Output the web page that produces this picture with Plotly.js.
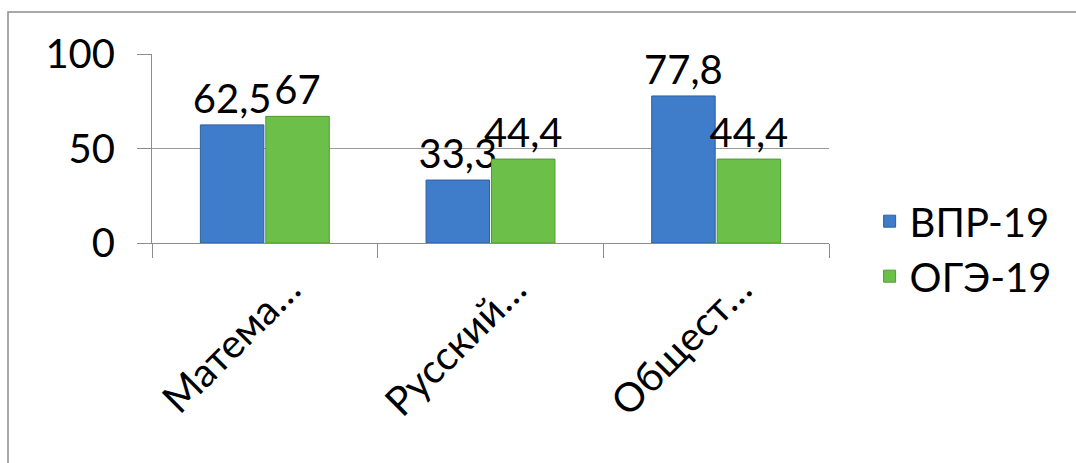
<!DOCTYPE html>
<html><head><meta charset="utf-8">
<script src="https://cdn.plot.ly/plotly-3.0.1.min.js"></script>
<style>body{margin:0;background:#fff}#c{width:1076px;height:463px}</style>
</head><body><div id="c"></div>
<script>
const categories = ["Матема…", "Русский…", "Общест…"];
const seriesNames = ["ВПР-19", "ОГЭ-19"];
const vpr19 = [62.5, 33.3, 77.8];
const oge19 = [67, 44.4, 44.4];
const yTicks = [0, 50, 100];

const fmt = v => String(v).replace('.', ',');
const FONT = "Lato, 'Noto Sans', sans-serif";

const traces = [
  {type:'bar', name:seriesNames[0], x:categories, y:vpr19, text:vpr19.map(fmt),
   textposition:'outside', cliponaxis:false, constraintext:'none', legendgroup:'a',
   textfont:{size:40,color:'#000',family:FONT},
   marker:{color:'#3f7cc9', line:{color:'#2f5f9e', width:1}}},
  {type:'bar', name:seriesNames[1], x:categories, y:oge19, text:oge19.map(fmt),
   textposition:'outside', cliponaxis:false, constraintext:'none', legendgroup:'b',
   textfont:{size:40,color:'#000',family:FONT},
   marker:{color:'#6cc04a', line:{color:'#4f9a30', width:1}}}
];

const layout = {
  width:1076, height:463,
  margin:{l:152, r:247, t:54, b:220},
  paper_bgcolor:'#fff', plot_bgcolor:'#fff',
  font:{family:FONT, color:'#000'},
  barmode:'group', bargap:0.42, bargroupgap:0.03,
  showlegend:true,
  legend:{x:1.06, y:-0.03, xanchor:'left', yanchor:'middle', font:{size:40, family:FONT},
          tracegroupgap:46, traceorder:'normal', bgcolor:'rgba(0,0,0,0)'},
  xaxis:{type:'category', tickangle:-45, tickfont:{size:40, family:FONT},
         showline:true, linecolor:'#8c8c8c', linewidth:1,
         ticks:'outside', ticklen:14, tickcolor:'#8c8c8c', tickson:'boundaries',
         ticklabelstandoff:6, ticklabelshift:24,
         showgrid:false},
  yaxis:{range:[0,100], tickvals:yTicks, ticktext:yTicks.map(String),
         tickfont:{size:40, family:FONT},
         showline:true, linecolor:'#8c8c8c', linewidth:1,
         ticks:'outside', ticklen:14, tickcolor:'#8c8c8c', ticklabelstandoff:14,
         showgrid:true, gridcolor:'#9a9a9a', gridwidth:1, zeroline:false},
  shapes:[{type:'rect', xref:'paper', yref:'paper', x0:-0.2127, x1:1.6, y0:-2, y1:1.222,
           line:{color:'#8c8c8c', width:1.5}, fillcolor:'rgba(0,0,0,0)', layer:'below'}]
};

Plotly.newPlot('c', traces, layout, {displayModeBar:false, staticPlot:true});
</script></body></html>
